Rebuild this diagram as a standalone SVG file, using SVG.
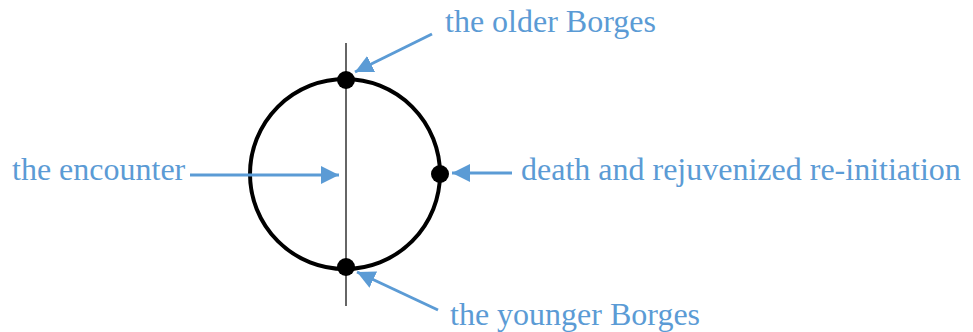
<svg xmlns="http://www.w3.org/2000/svg" width="973" height="332" viewBox="0 0 973 332">
<style>
.lbl{font-family:"Liberation Serif","Times New Roman",serif;font-size:32px;fill:#5B9BD5}
.arr{stroke:#5B9BD5;stroke-width:3;fill:none;marker-end:url(#ah)}
.dot{fill:#000}
</style>
<defs>
<marker id="ah" viewBox="0 0 10 10" refX="10" refY="5" markerWidth="6" markerHeight="6" orient="auto" markerUnits="strokeWidth">
<path d="M0,0 L10,5 L0,10 z" fill="#5B9BD5"/>
</marker>
</defs>
<rect width="973" height="332" fill="#fff"/>
<g id="cycle">
<circle cx="345" cy="174" r="95" fill="none" stroke="#000" stroke-width="4"/>
<line x1="346" y1="43" x2="346" y2="306" stroke="#333" stroke-width="1.5"/>
</g>
<g id="older">
<circle class="dot" cx="346" cy="80" r="9"/>
<text class="lbl" x="445" y="32">the older Borges</text>
</g>
<g id="death">
<circle class="dot" cx="440" cy="174" r="9"/>
<text class="lbl" x="521" y="180">death and rejuvenized re-initiation</text>
</g>
<g id="younger">
<circle class="dot" cx="346" cy="267" r="9"/>
<text class="lbl" x="450" y="325">the younger Borges</text>
</g>
<g id="encounter">
<text class="lbl" x="12" y="180">the encounter</text>
</g>
<g id="connectors">
<line class="arr" x1="432" y1="34" x2="355" y2="72"/>
<line class="arr" x1="190" y1="175" x2="339" y2="175"/>
<line class="arr" x1="512" y1="173" x2="452" y2="173"/>
<line class="arr" x1="438" y1="310" x2="357" y2="272"/>
</g>
</svg>
